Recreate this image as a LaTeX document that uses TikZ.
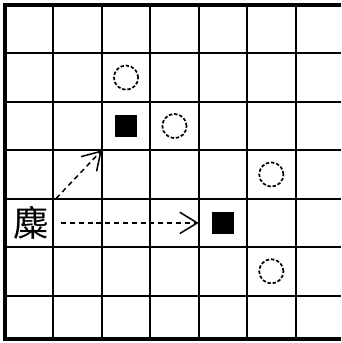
\documentclass[tikz,border=0pt]{standalone}
\usepackage{fontspec}
\newfontfamily\cjk{Noto Sans CJK SC}
\usetikzlibrary{arrows.meta, positioning}

\begin{document}
\begin{tikzpicture}[font=\small, >={Straight Barb[length=3.6mm, width=4.4mm]},
    gridline/.style={line width=1.2pt},
    border/.style={line width=2.4pt},
    stone/.style={draw, circle, dash pattern=on 2pt off 1.1pt, line width=1pt,
                  minimum size=0.5cm, inner sep=0pt},
    block/.style={fill=black, minimum size=0.45cm, inner sep=0pt},
    move/.style={->, dash pattern=on 2.9pt off 2.3pt, line width=0.9pt}]

  \useasboundingbox (-0.103,0.103) rectangle (6.94,-6.98);

  % Grid lines
  \foreach \i in {1,...,6}{
    \draw[gridline] (\i,0) -- (\i,-6.9);
    \draw[gridline] (0,-\i) -- (6.94,-\i);
  }
  % Outer frame (right side runs off the picture)
  \draw[border] (6.94,0) -- (0,0) -- (0,-6.9) -- (6.94,-6.9);

  % Open circles
  \foreach \c/\r/\n in {2/1/a, 3/2/b, 5/3/c, 5/5/d}{
    \node[stone] (ring\n) at (\c+0.5, -\r-0.5) {};
  }
  % Filled squares
  \node[block] (sqA) at (2.5,-2.5) {};
  \node[block] (sqB) at (4.5,-4.5) {};

  % Piece
  \node[minimum size=1cm, inner sep=0pt, font=\cjk\fontsize{21}{21}\selectfont]
    (deer) at (0.55,-4.5) {麋};

  % Moves
  \coordinate (tipD) at (2,-3);
  \coordinate (tipH) at (4,-4.5);
  \draw[move] (deer.north east) -- (tipD);
  \draw[move] ([xshift=0.1cm]deer.east) -- (tipH);
\end{tikzpicture}
\end{document}
